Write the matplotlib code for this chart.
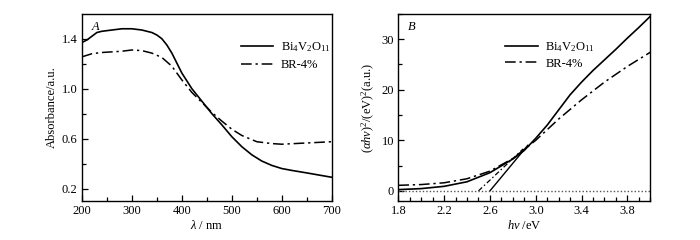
import matplotlib
matplotlib.use("Agg")
import matplotlib.pyplot as plt
from matplotlib.ticker import MultipleLocator, FixedLocator
import numpy as np

plt.rcParams['font.family'] = ['Liberation Serif', 'DejaVu Serif']
plt.rcParams['mathtext.fontset'] = 'custom'
plt.rcParams['mathtext.rm'] = 'Liberation Serif'
plt.rcParams['mathtext.it'] = 'Liberation Serif:italic'

# Panel A: absorbance vs wavelength
wl_bi = [200, 210, 220, 230, 240, 260, 280, 300, 320, 340, 350, 360, 370, 380, 390, 400, 420, 440, 460, 480, 500, 520, 540, 560, 580, 600, 620, 650, 700]
abs_bi = [1.37, 1.39, 1.42, 1.45, 1.46, 1.47, 1.48, 1.48, 1.47, 1.45, 1.43, 1.40, 1.35, 1.285, 1.205, 1.125, 1.00, 0.90, 0.80, 0.71, 0.615, 0.535, 0.47, 0.42, 0.385, 0.36, 0.345, 0.325, 0.29]
wl_br = [200, 220, 240, 260, 280, 300, 320, 340, 360, 380, 400, 420, 440, 460, 480, 500, 520, 550, 580, 600, 650, 700]
abs_br = [1.255, 1.28, 1.29, 1.295, 1.30, 1.31, 1.305, 1.285, 1.25, 1.18, 1.07, 0.97, 0.89, 0.81, 0.74, 0.675, 0.625, 0.575, 0.56, 0.555, 0.565, 0.575]

# Panel B: Tauc plot
ev_bi = [1.8, 2.0, 2.2, 2.4, 2.6, 2.8, 2.9, 3.0, 3.1, 3.2, 3.3, 3.4, 3.5, 3.6, 3.7, 3.8, 3.9, 4.0]
tauc_bi = [0.25, 0.45, 0.9, 1.8, 3.6, 6.3, 8.0, 10.4, 13.0, 16.0, 19.0, 21.5, 23.8, 25.9, 28.0, 30.2, 32.3, 34.5]
ev_br = [1.8, 2.0, 2.2, 2.4, 2.6, 2.8, 2.9, 3.0, 3.2, 3.4, 3.6, 3.8, 4.0]
tauc_br = [1.1, 1.25, 1.6, 2.4, 3.9, 6.4, 8.2, 10.0, 14.2, 18.0, 21.5, 24.6, 27.4]
tan_bi_x = [2.6, 2.93]
tan_bi_y = [0.0, 9.0]
tan_br_x = [2.5, 2.89]
tan_br_y = [0.0, 8.3]

label_bi = 'Bi$_4$V$_2$O$_{11}$'
label_br = 'BR-4%'

fs = 9
fig = plt.figure(figsize=(7, 2.4), dpi=100)
ax1 = fig.add_axes([0.117, 0.1625, 0.357, 0.78])
ax2 = fig.add_axes([0.569, 0.1625, 0.36, 0.78])

dd = (7, 2.5, 1.5, 2.5)
ax1.plot(wl_bi, abs_bi, color='black', lw=1.2, label=label_bi)
ax1.plot(wl_br, abs_br, color='black', lw=1.1, dashes=dd, label=label_br)
ax1.set_xlim(200, 700)
ax1.set_ylim(0.1, 1.6)
ax1.xaxis.set_major_locator(MultipleLocator(100))
ax1.xaxis.set_minor_locator(MultipleLocator(50))
ax1.yaxis.set_major_locator(FixedLocator([0.2, 0.6, 1.0, 1.4]))
ax1.yaxis.set_minor_locator(FixedLocator([0.4, 0.8, 1.2]))
ax1.set_xlabel(r'$\lambda$ / nm', fontsize=fs, labelpad=1)
ax1.set_ylabel('Absorbance/a.u.', fontsize=fs, labelpad=3)
ax1.text(0.04, 0.96, 'A', transform=ax1.transAxes, fontsize=fs, style='italic', va='top')
ax1.legend(loc='upper right', bbox_to_anchor=(1.04, 0.92), frameon=False, fontsize=fs,
           handlelength=2.6, handletextpad=0.6, labelspacing=0.45)

ax2.plot(ev_bi, tauc_bi, color='black', lw=1.2, label=label_bi)
ax2.plot(ev_br, tauc_br, color='black', lw=1.1, dashes=dd, label=label_br)
ax2.plot(tan_bi_x, tan_bi_y, color='black', lw=1.0)
ax2.plot(tan_br_x, tan_br_y, color='black', lw=0.9, dashes=(4, 2, 1.2, 2))
ax2.axhline(0, color='#555555', lw=1.0, ls=(0, (1, 1.5)))
ax2.set_xlim(1.8, 4.0)
ax2.set_ylim(-2, 35)
ax2.xaxis.set_major_locator(FixedLocator([1.8, 2.2, 2.6, 3.0, 3.4, 3.8]))
ax2.xaxis.set_minor_locator(MultipleLocator(0.1))
ax2.yaxis.set_major_locator(MultipleLocator(10))
ax2.yaxis.set_minor_locator(MultipleLocator(5))
ax2.set_xlabel(r'$h\nu$ /eV', fontsize=fs, labelpad=1)
ax2.set_ylabel(r'$(\alpha h\nu)^2$/(eV)$^2$(a.u.)', fontsize=fs, labelpad=3)
ax2.text(0.04, 0.96, 'B', transform=ax2.transAxes, fontsize=fs, style='italic', va='top')
ax2.legend(loc='upper left', bbox_to_anchor=(0.38, 0.92), frameon=False, fontsize=fs,
           handlelength=2.6, handletextpad=0.6, labelspacing=0.3)

for ax in (ax1, ax2):
    ax.tick_params(which='both', direction='in', labelsize=fs, top=False, right=False, pad=3)
    ax.tick_params(which='major', length=4, width=0.9)
    ax.tick_params(which='minor', length=3, width=0.9)
    for s in ax.spines.values():
        s.set_linewidth(1.0)

fig.savefig('out.png', dpi=100)
